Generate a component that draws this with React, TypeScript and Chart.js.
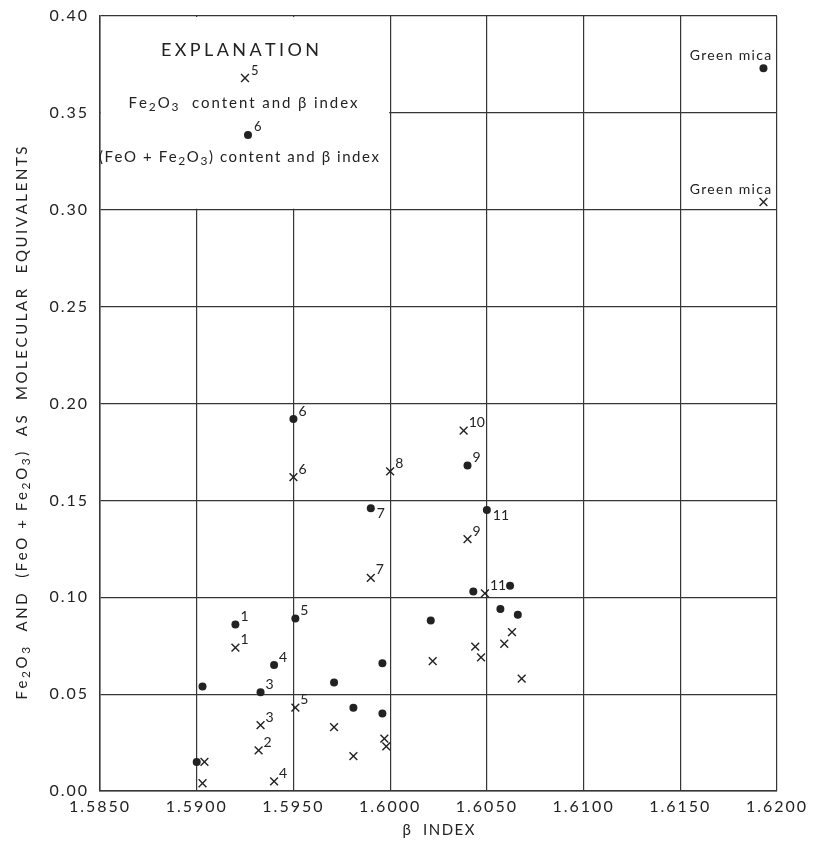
import React, { useEffect, useRef } from 'react';
import { Chart, registerables } from 'chart.js';

Chart.register(...registerables);

const FONT = 'Lato, "DejaVu Sans", sans-serif';
const INK = '#222222';
const GRID = '#363636';

// ---- Data ----
const xTickLabels = ['1.5850', '1.5900', '1.5950', '1.6000', '1.6050', '1.6100', '1.6150', '1.6200'];
const yTickLabels = ['0.00', '0.05', '0.10', '0.15', '0.20', '0.25', '0.30', '0.35', '0.40'];

// (FeO + Fe2O3) content vs beta index (filled dots)
const totalIronIndex = [1.5920, 1.5903, 1.5933, 1.5940, 1.5951, 1.5950, 1.5990, 1.5900, 1.5971, 1.5981, 1.5996, 1.5996, 1.6021, 1.6040, 1.6050, 1.6043, 1.6062, 1.6057, 1.6066, 1.6193];
const totalIronValue = [0.086, 0.054, 0.051, 0.065, 0.089, 0.192, 0.146, 0.015, 0.056, 0.043, 0.040, 0.066, 0.088, 0.168, 0.145, 0.103, 0.106, 0.094, 0.091, 0.373];
const totalIronLabels = ['1', '', '3', '4', '5', '6', '7', '', '', '', '', '', '', '9', '11', '', '', '', '', 'Green mica'];

// Fe2O3 content vs beta index (crosses)
const ferricIndex = [1.5920, 1.5932, 1.5933, 1.5940, 1.5951, 1.5950, 1.5990, 1.6000, 1.6040, 1.6038, 1.6049, 1.5904, 1.5903, 1.5971, 1.5981, 1.5997, 1.5998, 1.6022, 1.6044, 1.6047, 1.6059, 1.6063, 1.6068, 1.6193];
const ferricValue = [0.074, 0.021, 0.034, 0.005, 0.043, 0.162, 0.110, 0.165, 0.130, 0.186, 0.102, 0.015, 0.004, 0.033, 0.018, 0.027, 0.023, 0.067, 0.0745, 0.069, 0.076, 0.082, 0.058, 0.304];
const ferricLabels = ['1', '2', '3', '4', '5', '6', '7', '8', '9', '10', '11', '', '', '', '', '', '', '', '', '', '', '', '', 'Green mica'];

const yTitle = 'Fe₂O₃  AND  (FeO + Fe₂O₃)  AS  MOLECULAR  EQUIVALENTS';
const xTitle = 'β  INDEX';
const legendTitle = 'EXPLANATION';
const legendFerric = 'Fe₂O₃  content and β index';
const legendTotal = '(FeO + Fe₂O₃) content and β index';
const legendFerricTag = '5';
const legendTotalTag = '6';

// labels of the dot series placed to the lower right instead of upper right
const lowerRightDotTags = ['7', '11'];

const SUB: Record<string, string> = { '₂': '2', '₃': '3' };

// draws text (with subscript digits lowered) spread to a given width, centred at cx
function fitText(ctx: CanvasRenderingContext2D, text: string, cx: number, cy: number, width: number, size: number) {
  (ctx as any).letterSpacing = '0px';
  ctx.textAlign = 'left';
  ctx.textBaseline = 'middle';
  const chars = Array.from(text);
  const subSize = Math.round(size * 0.8);
  const widths = chars.map((c) => {
    if (SUB[c]) {
      ctx.font = `${subSize}px ${FONT}`;
      return ctx.measureText(SUB[c]).width;
    }
    ctx.font = `${size}px ${FONT}`;
    return ctx.measureText(c).width;
  });
  const w0 = widths.reduce((a, b) => a + b, 0);
  const ls = Math.max(0, (width - w0) / Math.max(1, chars.length - 1));
  let x = cx - width / 2;
  chars.forEach((c, i) => {
    if (SUB[c]) {
      ctx.font = `${subSize}px ${FONT}`;
      ctx.fillText(SUB[c], x, cy + size * 0.28);
    } else {
      ctx.font = `${size}px ${FONT}`;
      ctx.fillText(c, x, cy);
    }
    x += widths[i] + ls;
  });
}

function drawDot(ctx: CanvasRenderingContext2D, x: number, y: number) {
  ctx.beginPath();
  ctx.arc(x, y, 4, 0, Math.PI * 2);
  ctx.fillStyle = INK;
  ctx.fill();
}

function drawCross(ctx: CanvasRenderingContext2D, x: number, y: number) {
  const r = 5.5 * Math.SQRT1_2;
  ctx.beginPath();
  ctx.moveTo(x - r, y - r);
  ctx.lineTo(x + r, y + r);
  ctx.moveTo(x - r, y + r);
  ctx.lineTo(x + r, y - r);
  ctx.strokeStyle = INK;
  ctx.lineWidth = 1.4;
  ctx.stroke();
}

const overlayPlugin = {
  id: 'overlay',
  beforeDraw(chart: any) {
    chart.ctx.letterSpacing = '2px';
  },
  beforeDatasetsDraw(chart: any) {
    const { ctx, scales } = chart;
    const x0 = scales.x.getPixelForValue(1.585);
    const x1 = scales.x.getPixelForValue(1.6);
    const y0 = scales.y.getPixelForValue(0.4);
    const y1 = scales.y.getPixelForValue(0.3);
    ctx.save();
    ctx.fillStyle = '#ffffff';
    ctx.fillRect(x0 + 1, y0 + 1, x1 - x0 - 2, y1 - y0 - 2);
    ctx.restore();
  },
  afterDatasetsDraw(chart: any) {
    const { ctx, chartArea } = chart;
    ctx.save();
    ctx.fillStyle = INK;

    const drawLabels = (dsIndex: number, labels: string[], lower: string[]) => {
      const meta = chart.getDatasetMeta(dsIndex);
      meta.data.forEach((pt: any, i: number) => {
        const t = labels[i];
        if (!t) return;
        ctx.fillStyle = INK;
        if (t.length > 3) {
          ctx.font = `14px ${FONT}`;
          ctx.letterSpacing = '1.3px';
          ctx.textAlign = 'right';
          ctx.textBaseline = 'middle';
          ctx.fillText(t, pt.x + 9, pt.y - 13);
        } else {
          ctx.font = `14px ${FONT}`;
          ctx.letterSpacing = '0px';
          ctx.textAlign = 'left';
          ctx.textBaseline = 'middle';
          if (lower.includes(t)) ctx.fillText(t, pt.x + 6, pt.y + 5);
          else ctx.fillText(t, pt.x + 5, pt.y - 8);
        }
      });
    };
    drawLabels(0, totalIronLabels, lowerRightDotTags);
    drawLabels(1, ferricLabels, []);

    // Explanation block
    const L = chartArea.left;
    const T = chartArea.top;
    const cx = L + 140;
    ctx.fillStyle = INK;
    fitText(ctx, legendTitle, cx, T + 34, 158, 18);
    drawCross(ctx, L + 145, T + 62);
    ctx.fillStyle = INK;
    ctx.font = `13px ${FONT}`;
    ctx.letterSpacing = '0px';
    ctx.textAlign = 'left';
    ctx.textBaseline = 'middle';
    ctx.fillText(legendFerricTag, L + 151, T + 55);
    fitText(ctx, legendFerric, cx + 3, T + 87, 229, 15);
    drawDot(ctx, L + 148, T + 119);
    ctx.fillStyle = INK;
    ctx.font = `13px ${FONT}`;
    ctx.letterSpacing = '0px';
    ctx.textAlign = 'left';
    ctx.fillText(legendTotalTag, L + 154, T + 111);
    fitText(ctx, legendTotal, L + 139, T + 141, 280, 15);

    // Axis titles
    ctx.save();
    ctx.translate(14, 415);
    ctx.rotate(-Math.PI / 2);
    fitText(ctx, yTitle, 0, 0, 553, 15);
    ctx.restore();
    fitText(ctx, xTitle, (chartArea.left + chartArea.right) / 2, 822, 72, 15);

    ctx.restore();
  },
  afterDraw(chart: any) {
    chart.ctx.letterSpacing = '0px';
  },
};

export default function App() {
  const ref = useRef<HTMLCanvasElement>(null);
  useEffect(() => {
    const canvas = ref.current!;
    const chart = new Chart(canvas, {
      type: 'scatter',
      data: {
        datasets: [
          {
            label: '(FeO + Fe2O3) content and β index',
            data: totalIronIndex.map((x, i) => ({ x, y: totalIronValue[i] })),
            pointStyle: 'circle',
            pointRadius: 4,
            pointBackgroundColor: INK,
            pointBorderColor: INK,
            pointBorderWidth: 0,
          },
          {
            label: 'Fe2O3 content and β index',
            data: ferricIndex.map((x, i) => ({ x, y: ferricValue[i] })),
            pointStyle: 'crossRot',
            pointRadius: 5.5,
            pointBorderColor: INK,
            pointBorderWidth: 1.4,
          },
        ],
      },
      options: {
        animation: false,
        responsive: false,
        layout: { padding: { top: 8, right: 31, left: 0, bottom: 0 } },
        plugins: { legend: { display: false }, tooltip: { enabled: false } },
        scales: {
          x: {
            type: 'linear',
            min: 1.585,
            max: 1.62,
            afterFit: (s: any) => { s.height = 61; s.paddingLeft = 0; s.paddingRight = 0; },
            ticks: {
              count: 8,
              callback: (_v: any, i: number) => xTickLabels[i],
              maxRotation: 0,
              autoSkip: false,
              padding: 6,
              color: INK,
              font: { size: 16, family: FONT },
            },
            grid: { color: GRID, lineWidth: 1.2, drawTicks: false },
            border: { color: GRID, width: 1.5 },
          },
          y: {
            type: 'linear',
            min: 0,
            max: 0.4,
            afterFit: (s: any) => { s.width = 92; s.paddingTop = 0; s.paddingBottom = 0; },
            ticks: {
              count: 9,
              callback: (_v: any, i: number) => yTickLabels[i],
              padding: 11,
              color: INK,
              font: { size: 16, family: FONT },
            },
            grid: { color: GRID, lineWidth: 1.2, drawTicks: false },
            border: { color: GRID, width: 1.5 },
          },
        },
      },
      plugins: [overlayPlugin],
    });
    return () => chart.destroy();
  }, []);
  return (
    <div style={{ width: 800, height: 844 }}>
      <canvas ref={ref} width={800} height={844} style={{ display: 'block' }} />
    </div>
  );
}
